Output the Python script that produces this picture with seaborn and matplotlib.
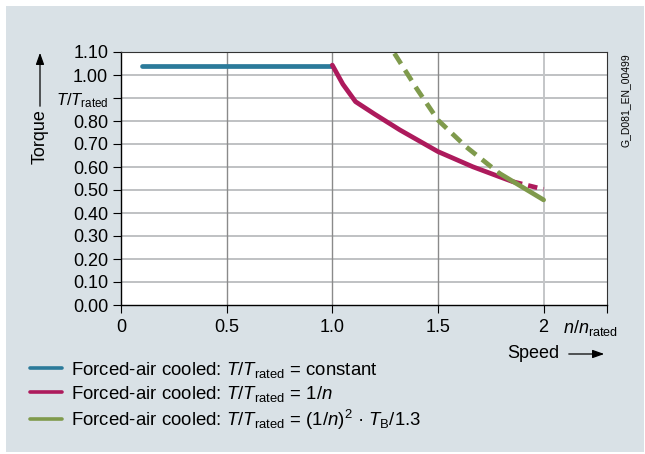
import matplotlib
matplotlib.use("Agg")
import matplotlib.pyplot as plt
import seaborn as sns
from matplotlib.lines import Line2D
from matplotlib.patches import Rectangle, FancyArrowPatch

# Curve data (speed n/n_rated, torque T/T_rated)
const_speed = [0.1, 1.0]
const_torque = [1.04, 1.04]

inv_speed = [1.0, 1.05, 1.11, 1.2, 1.32, 1.5, 1.665, 1.79, 1.855]
inv_torque = [1.043, 0.96, 0.884, 0.83, 0.761, 0.667, 0.601, 0.558, 0.536]
inv_dash_speed = [1.855, 2.0]
inv_dash_torque = [0.536, 0.503]

sq_dash_speed = [1.294, 1.4, 1.5, 1.633, 1.79]
sq_dash_torque = [1.094, 0.94, 0.804, 0.688, 0.573]
sq_speed = [1.79, 2.0]
sq_torque = [0.573, 0.457]

y_ticks = [0.0, 0.1, 0.2, 0.3, 0.4, 0.5, 0.6, 0.7, 0.8, 0.9, 1.0, 1.1]
y_labels = ["0.00", "0.10", "0.20", "0.30", "0.40", "0.50", "0.60", "0.70",
            "0.80", r"$T/T_{\mathrm{rated}}$", "1.00", "1.10"]
x_ticks = [0, 0.5, 1.0, 1.5, 2.0, 2.3]
x_labels = ["0", "0.5", "1.0", "1.5", "2", ""]

legend_labels = [
    r"Forced-air cooled: $T/T_{\mathrm{rated}}$ = constant",
    r"Forced-air cooled: $T/T_{\mathrm{rated}}$ = 1/$n$",
    r"Forced-air cooled: $T/T_{\mathrm{rated}}$ = (1/$n$)$^2$ · $T_{\mathrm{B}}$/1.3",
]

BLUE = "#2b7a9a"
MAGENTA = "#ad1a5c"
GREEN = "#7f9a4c"
BG = "#d9e1e6"
FS = 13

sns.set_style("white")
plt.rcParams["font.family"] = ["Liberation Sans", "DejaVu Sans"]
plt.rcParams["text.color"] = "black"
plt.rcParams["xtick.color"] = "black"
plt.rcParams["ytick.color"] = "black"
plt.rcParams["mathtext.fontset"] = "custom"
plt.rcParams["mathtext.rm"] = "Liberation Sans"
plt.rcParams["mathtext.it"] = "Liberation Sans:italic"
plt.rcParams["mathtext.bf"] = "Liberation Sans:bold"

fig = plt.figure(figsize=(6.45, 4.54), dpi=100)
fig.patch.set_facecolor("white")
fig.patches.append(Rectangle((6 / 645, 2 / 454), 638 / 645, 446 / 454,
                             transform=fig.transFigure, facecolor=BG,
                             edgecolor="none", zorder=-5))

ax = fig.add_axes([121 / 645, 149 / 454, 486 / 645, 253 / 454])
ax.set_facecolor("white")
ax.set_zorder(2)

lw = 3.4
sns.lineplot(x=const_speed, y=const_torque, ax=ax, color=BLUE, lw=lw)
sns.lineplot(x=inv_speed, y=inv_torque, ax=ax, color=MAGENTA, lw=lw)
sns.lineplot(x=inv_dash_speed, y=inv_dash_torque, ax=ax, color=MAGENTA, lw=lw,
             linestyle=(0, (2.0, 1.3)))
sns.lineplot(x=sq_dash_speed, y=sq_dash_torque, ax=ax, color=GREEN, lw=lw,
             linestyle=(0, (2.6, 1.6)))
sns.lineplot(x=sq_speed, y=sq_torque, ax=ax, color=GREEN, lw=lw)

ax.set_xlim(0, 2.3)
ax.set_ylim(0, 1.1)
ax.set_yticks(y_ticks)
ax.set_yticklabels(y_labels)
ax.set_xticks(x_ticks)
ax.set_xticklabels(x_labels)
for lab in ax.get_yticklabels():
    if "rated" in lab.get_text():
        lab.set_fontsize(12)
    else:
        lab.set_fontsize(FS)
for lab in ax.get_xticklabels():
    lab.set_fontsize(FS)
ax.tick_params(axis="y", direction="out", length=6, width=0.8, color="black",
               pad=3.2, left=True)
ax.tick_params(axis="x", direction="out", length=6, width=0.8, color="black",
               pad=4, bottom=True)

# grid
for yv in y_ticks[1:-1]:
    ax.axhline(yv, color="#bfc1c3", lw=1.4, zorder=0)
for xv in [0.5, 1.0, 1.5]:
    ax.axvline(xv, color="#8a8a8a", lw=1.0, zorder=0)
ax.axvline(2.0, color="#c4c6c8", lw=1.4, zorder=0)

for side in ["left", "bottom"]:
    ax.spines[side].set_color("black")
    ax.spines[side].set_linewidth(1.0)
for side in ["top", "right"]:
    ax.spines[side].set_color("#333333")
    ax.spines[side].set_linewidth(0.8)

# axis captions
fig.text(563 / 645, 1 - 328 / 454, r"$n$/$n_{\mathrm{rated}}$", fontsize=FS,
         va="center", ha="left")
fig.text(507 / 645, 1 - 354 / 454, "Speed", fontsize=FS, va="center", ha="left")
fig.add_artist(FancyArrowPatch(
    (566 / 645, 1 - 354 / 454), (607 / 645, 1 - 354 / 454),
    transform=fig.transFigure, arrowstyle="-|>,head_length=7,head_width=2.5",
    color="black", lw=0.9))
fig.text(40 / 645, 1 - 137 / 454, "Torque", fontsize=FS, rotation=90,
         va="center", ha="center")
fig.add_artist(FancyArrowPatch(
    (40 / 645, 1 - 109 / 454), (40 / 645, 1 - 50 / 454),
    transform=fig.transFigure, arrowstyle="-|>,head_length=7,head_width=2.5",
    color="black", lw=0.9))
fig.text(626 / 645, 1 - 100 / 454, "G_D081_EN_00499", fontsize=7.5, rotation=90,
         va="center", ha="center")

# legend
handles = [Line2D([0], [0], color=c, lw=2.6) for c in [BLUE, MAGENTA, GREEN]]
fig.legend(handles, legend_labels, loc="upper left",
           bbox_to_anchor=(30 / 645, 1 - 360 / 454), frameon=False,
           fontsize=13.4, handlelength=1.7, handletextpad=0.5,
           labelspacing=0.2, borderaxespad=0, borderpad=0)

fig.savefig("out.png", dpi=100, facecolor=fig.get_facecolor())
